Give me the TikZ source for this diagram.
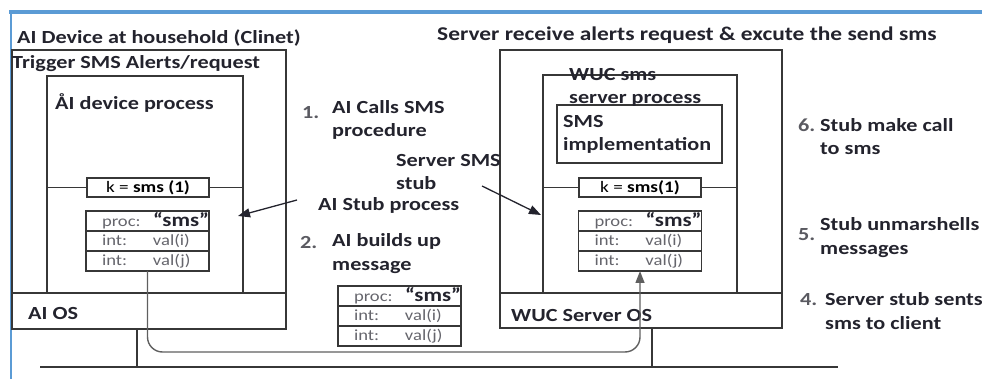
\documentclass[tikz,border=0pt]{standalone}
\usepackage{fontspec}
\setmainfont{Carlito}[FakeStretch=1.2]
\usetikzlibrary{positioning,arrows.meta}

\definecolor{frameblue}{RGB}{91,155,213}
\definecolor{ink}{RGB}{35,35,45}
\definecolor{wiregray}{RGB}{55,55,55}

\newcommand{\rowtxt}[2]{\makebox[51pt][l]{#1}#2}
\newcommand{\smsq}{{\fontsize{19}{19}\selectfont\bfseries\color{ink}“sms”}}

\tikzset{
  box/.style={draw=wiregray, line width=1.7pt, inner sep=0pt, outer sep=0pt},
  kbox/.style={box, line width=1.4pt, minimum width=122pt, minimum height=19pt,
    font=\fontsize{16}{16}\selectfont},
  row/.style={draw=wiregray, line width=1.3pt, minimum width=123pt, minimum height=20pt,
    inner sep=0pt, outer sep=0pt, text width=91pt, align=left,
    font=\fontsize{15.5}{15.5}\selectfont\color{ink!70}},
  lbl/.style={anchor=west, inner sep=0pt, align=left, text=ink,
    font=\fontsize{18.5}{23.5}\selectfont\bfseries},
  num/.style={lbl, text=ink!75},
  wire/.style={draw=wiregray, line width=1.5pt},
  bus/.style={draw=wiregray, line width=2.3pt},
  pointer/.style={-{Triangle[length=12pt,width=9pt]}, line width=1.3pt, draw=ink},
  msgline/.style={-{Triangle[length=12pt,width=9pt]}, line width=1.4pt, draw=wiregray!80,
    rounded corners=15pt}
}

\begin{document}
\begin{tikzpicture}[x=1pt,y=-1pt]
\useasboundingbox (0,0) rectangle (982,379);
% frame
\draw[frameblue, line width=3.5pt] (9,12) -- (982,12);
\draw[frameblue, line width=2.5pt] (11,12) -- (11,379);

% client side
\node[box, minimum width=274pt, minimum height=279pt] (cbox) at (149,189.5) {};
\node[box, minimum width=196pt, minimum height=217pt] (cproc) at (145,184.5) {};
\draw[wire] (cbox.west |- cproc.south) -- (cbox.east |- cproc.south);
\node[kbox] (ck) at (148,187.5) {k = \textbf{sms (1)}};
\draw[wire] (cproc.west |- ck) -- (ck.west);
\draw[wire] (ck.east) -- (cproc.east |- ck);
\node[row] (crow1) at (147.5,221) {\rowtxt{proc:}{\smsq}};
\node[row, below=0pt of crow1] (crow2) {\rowtxt{int:}{val(i)}};
\node[row, below=0pt of crow2] (crow3) {\rowtxt{int:}{val(j)}};

\node[lbl] (ctitle) at (17,38) {AI Device at household (Clinet)};
\node[lbl] (ctrigger) at (12,64) {Trigger SMS Alerts/request};
\node[lbl] (cprocname) at (55,103) {ÅI device process};
\node[lbl] (cos) at (28,313) {AI OS};

% server side
\node[box, minimum width=282pt, minimum height=278pt] (sbox) at (641,189) {};
\node[box, minimum width=194pt, minimum height=218pt] (sproc) at (640,184) {};
\draw[wire] (sbox.west |- sproc.south) -- (sbox.east |- sproc.south);
\node[box, minimum width=165pt, minimum height=58pt] (simpl) at (639.5,134) {};
\node[kbox] (sk) at (640,187.5) {k = \textbf{sms(1)}};
\draw[wire] (sproc.west |- sk) -- (sk.west);
\draw[wire] (sk.east) -- (sproc.east |- sk);
\node[row] (srow1) at (640,221) {\rowtxt{proc:}{\smsq}};
\node[row, below=0pt of srow1] (srow2) {\rowtxt{int:}{val(i)}};
\node[row, below=0pt of srow2] (srow3) {\rowtxt{int:}{val(j)}};

\node[lbl, font=\fontsize{19.5}{23}\selectfont\bfseries] (stitle) at (437,35)
  {Server receive alerts request \& excute the send sms};
\node[lbl] (sprocname) at (569,87.5) {WUC sms\\server process};
\node[lbl] (simplname) at (563,134.5) {SMS\\implementation};
\node[lbl] (sos) at (511,316) {WUC Server OS};

% message in transit
\node[row] (mrow1) at (399.5,296) {\rowtxt{proc:}{\smsq}};
\node[row, below=0pt of mrow1] (mrow2) {\rowtxt{int:}{val(i)}};
\node[row, below=0pt of mrow2] (mrow3) {\rowtxt{int:}{val(j)}};

% network
\coordinate (busL) at (40,367);
\coordinate (busR) at (838,367);
\coordinate (cdrop) at (137,0);
\coordinate (sdrop) at (652,0);
\coordinate (msgturn) at (0,352);
\draw[bus] (busL) -- (busR);
\draw[bus] (cbox.south -| cdrop) -- (busL -| cdrop);
\draw[bus] (sbox.south -| sdrop) -- (busL -| sdrop);
\draw[msgline] (crow3.south) -- (crow3.south |- msgturn) -- (srow3.south |- msgturn) -- (srow3.south);

% steps
\node[num] (n1) at (302,113) {1.};
\node[lbl] (step1) at (332,120) {AI Calls SMS\\procedure};
\node[lbl] (sstub) at (396,172) {Server SMS\\stub};
\node[lbl] (cstub) at (318,205) {AI Stub process};
\node[num] (n2) at (300,242) {2.};
\node[lbl] (step2) at (332,253.5) {AI builds up\\message};
\node[num] (n6) at (798,125) {6.};
\node[lbl] (step6) at (820,136.5) {Stub make call\\to sms};
\node[num] (n5) at (798,235) {5.};
\node[lbl] (step5) at (820,237.5) {Stub unmarshells\\messages};
\node[num] (n4) at (800,300) {4.};
\node[lbl] (step4) at (825,311) {Server stub sents\\sms to client};

% pointers
\coordinate (ctip) at (238,216);
\coordinate (sfrom) at (482,186);
\coordinate (stip) at (541,215);
\draw[pointer] ([xshift=-21pt,yshift=5pt]cstub.west) -- (ctip);
\draw[pointer] (sfrom) -- (stip);
\end{tikzpicture}
\end{document}
